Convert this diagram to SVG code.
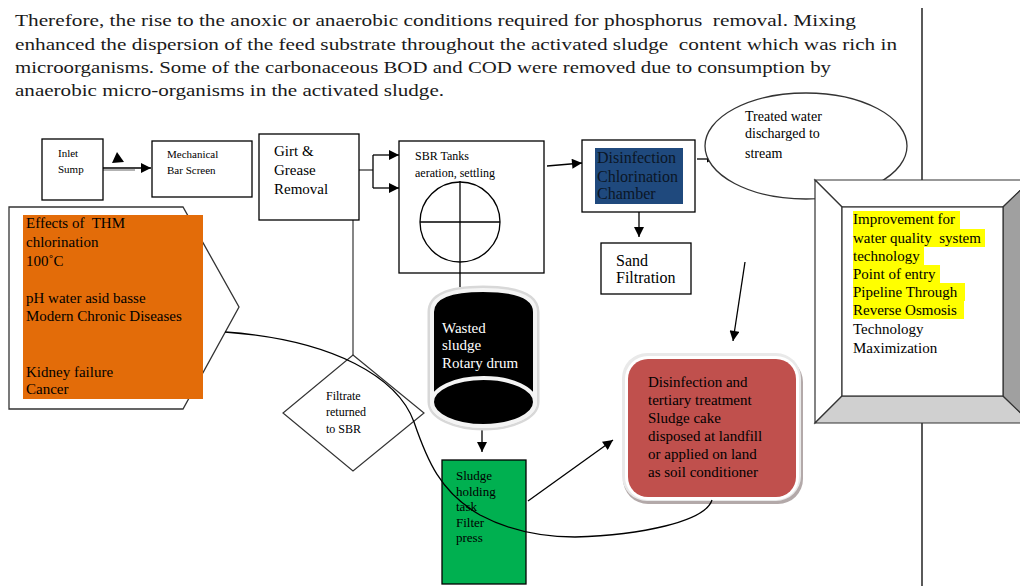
<svg xmlns="http://www.w3.org/2000/svg" width="1020" height="586" viewBox="0 0 1020 586">
<style>
.t{font-family:"Liberation Serif","DejaVu Serif","Times New Roman",Tinos,serif;fill:#000}
.w{font-family:"Liberation Serif","DejaVu Serif","Times New Roman",Tinos,serif}
.para{font-family:"Liberation Serif","DejaVu Serif","Times New Roman",Tinos,serif;font-size:17px;fill:#1a1a1a}
.pre{white-space:pre}
.box{fill:#fff;stroke:#000;stroke-width:1.3}
.ln{fill:none;stroke:#000;stroke-width:1.3}
</style>
<defs>
<marker id="ah" viewBox="0 0 10 10" refX="10" refY="5" markerWidth="11" markerHeight="10" markerUnits="userSpaceOnUse" orient="auto"><path d="M0,0 L10,5 L0,10 z" fill="#000"/></marker>
<marker id="ahs" viewBox="0 0 10 10" refX="10" refY="5" markerWidth="7" markerHeight="7" markerUnits="userSpaceOnUse" orient="auto"><path d="M0,0 L10,5 L0,10 z" fill="#000"/></marker>
</defs>
<rect width="1020" height="586" fill="#fff"/>

<g id="paragraph">
<text class="para pre" x="15" y="26" textLength="841" lengthAdjust="spacingAndGlyphs">Therefore, the rise to the anoxic or anaerobic conditions required for phosphorus  removal. Mixing</text>
<text class="para pre" x="15" y="50" textLength="882" lengthAdjust="spacingAndGlyphs">enhanced the dispersion of the feed substrate throughout the activated sludge  content which was rich in</text>
<text class="para" x="15" y="73" textLength="816" lengthAdjust="spacingAndGlyphs">microorganisms. Some of the carbonaceous BOD and COD were removed due to consumption by</text>
<text class="para" x="15" y="96" textLength="429" lengthAdjust="spacingAndGlyphs">anaerobic micro-organisms in the activated sludge.</text>
</g>

<g id="page-rule">
<line x1="922" y1="8" x2="922" y2="180" class="ln"/>
<line x1="922" y1="423" x2="922" y2="586" class="ln"/>
</g>

<g id="connectors">
<line x1="103" y1="170" x2="135" y2="170" stroke="#888" stroke-width="1.3"/>
<line x1="103" y1="168" x2="151" y2="168" class="ln" marker-end="url(#ah)"/>
<polygon points="112,163 124,162 117,152" fill="#000"/>
<line x1="222" y1="170" x2="247" y2="170" class="ln" marker-end="url(#ah)"/>
<line x1="334" y1="170" x2="373" y2="170" stroke="#555" stroke-width="1.5"/>
<line x1="373" y1="155" x2="373" y2="188" class="ln"/>
<line x1="373" y1="155" x2="399" y2="155" class="ln" marker-end="url(#ah)"/>
<line x1="373" y1="188" x2="399" y2="188" class="ln" marker-end="url(#ah)"/>
<line x1="353" y1="355" x2="353" y2="165" stroke="#444" stroke-width="1.3" marker-end="url(#ah)"/>
<line x1="547" y1="166" x2="582" y2="163" class="ln" marker-end="url(#ah)"/>
<line x1="639" y1="212" x2="639" y2="237" class="ln" marker-end="url(#ah)"/>
<line x1="697" y1="159" x2="714" y2="159" class="ln" marker-end="url(#ahs)"/>
<line x1="745" y1="262" x2="733" y2="341" class="ln" marker-end="url(#ah)"/>
<line x1="460" y1="273" x2="460" y2="287" class="ln"/>
<line x1="482" y1="430" x2="482" y2="452" class="ln" marker-end="url(#ah)"/>
<line x1="528" y1="501" x2="613" y2="440" class="ln" marker-end="url(#ah)"/>
</g>

<g id="thm-effects">
<path d="M9,207 L183,207 L239,307 L183,409 L9,409 Z" fill="#fff" stroke="#333" stroke-width="1.3"/>
<rect x="23" y="215" width="180" height="184" fill="#e36c09"/>
<g class="t" font-size="15">
<text class="pre" x="26" y="228">Effects of  THM</text>
<text x="26" y="247">chlorination</text>
<text x="26" y="266">100˚C</text>
<text x="26" y="303">pH water asid basse</text>
<text x="26" y="321">Modern Chronic Diseases</text>
<text x="26" y="377">Kidney failure</text>
<text x="26" y="394">Cancer</text>
</g>
</g>

<g id="inlet-sump">
<rect x="42" y="139" width="61" height="61" class="box"/>
<text class="t" font-size="11" x="58" y="157">Inlet</text>
<text class="t" font-size="11" x="58" y="173">Sump</text>
</g>

<g id="bar-screen">
<rect x="152" y="141" width="100" height="56" class="box"/>
<text class="t" font-size="11" x="167" y="158">Mechanical</text>
<text class="t" font-size="11" x="167" y="174">Bar Screen</text>
</g>

<g id="grit-removal">
<rect x="259" y="134" width="100" height="86" class="box"/>
<text class="t" font-size="15" x="274" y="156">Girt &amp;</text>
<text class="t" font-size="15" x="274" y="175">Grease</text>
<text class="t" font-size="15" x="274" y="194">Removal</text>
</g>

<g id="sbr-tanks">
<rect x="399" y="141" width="145" height="132" class="box"/>
<text class="t" font-size="12" x="415" y="160">SBR Tanks</text>
<text class="t" font-size="12" x="415" y="177">aeration, settling</text>
<circle cx="460" cy="222" r="40" class="ln"/>
<line x1="420" y1="222" x2="500" y2="222" class="ln"/>
<line x1="460" y1="181" x2="460" y2="273" class="ln"/>
</g>

<g id="disinfection-chamber">
<rect x="582" y="140" width="113" height="72" class="box"/>
<rect x="595" y="148" width="88" height="56" fill="#1f497d"/>
<g class="w" font-size="16" fill="#0b1626">
<text x="597" y="163">Disinfection</text>
<text x="597" y="182">Chlorination</text>
<text x="597" y="199">Chamber</text>
</g>
</g>

<g id="sand-filtration">
<rect x="601" y="243" width="90" height="51" class="box"/>
<text class="t" font-size="16" x="616" y="266">Sand</text>
<text class="t" font-size="16" x="616" y="283">Filtration</text>
</g>

<g id="treated-water">
<ellipse cx="806" cy="146" rx="101" ry="53" fill="#fff" stroke="#333" stroke-width="1.3"/>
<text class="t" font-size="14" x="745" y="121">Treated water</text>
<text class="t" font-size="14" x="745" y="138">discharged to</text>
<text class="t" font-size="14" x="745" y="158">stream</text>
</g>

<g id="improvement">
<polygon points="815,180 1031,180 1003,207 842,207" fill="#fff" stroke="#333" stroke-width="1.2"/>
<polygon points="815,180 842,207 842,396 815,423" fill="#fff" stroke="#333" stroke-width="1.2"/>
<polygon points="842,396 1003,396 1031,423 815,423" fill="#d0d0d0" stroke="#333" stroke-width="1.2"/>
<polygon points="1003,207 1031,180 1031,423 1003,396" fill="#a0a0a0" stroke="#333" stroke-width="1.2"/>
<rect x="842" y="207" width="161" height="189" fill="#fff" stroke="#333" stroke-width="1.2"/>
<g fill="#ffff00">
<rect x="853" y="211" width="107" height="18"/>
<rect x="853" y="229" width="132" height="18"/>
<rect x="853" y="247" width="71" height="18"/>
<rect x="853" y="265" width="87" height="18"/>
<rect x="853" y="283" width="112" height="18"/>
<rect x="853" y="301" width="111" height="18"/>
</g>
<g class="t" font-size="15">
<text x="853" y="224">Improvement for</text>
<text class="pre" x="853" y="243">water quality  system</text>
<text x="853" y="261">technology</text>
<text x="853" y="279">Point of entry</text>
<text x="853" y="297">Pipeline Through</text>
<text x="853" y="315">Reverse Osmosis</text>
<text x="853" y="334">Technology</text>
<text x="853" y="353">Maximization</text>
</g>
</g>

<g id="filtrate-returned">
<polygon points="353,355 424,413 353,471 283,413" fill="#fff" stroke="#333" stroke-width="1.2"/>
<text class="t" font-size="12" x="326" y="400">Filtrate</text>
<text class="t" font-size="12" x="326" y="416">returned</text>
<text class="t" font-size="12" x="326" y="433">to SBR</text>
</g>

<g id="rotary-drum">
<path d="M432,312 Q432,290 483,290 Q535,290 535,312 L535,402 A51.5,24 0 0 1 432,402 Z" fill="#000" stroke="#d8d8d8" stroke-width="9"/>
<path d="M432,312 Q432,290 483,290 Q535,290 535,312 L535,402 A51.5,24 0 0 1 432,402 Z" fill="#000" stroke="#f4f4f4" stroke-width="4"/>
<ellipse cx="483.5" cy="402" rx="51.5" ry="24" fill="#000" stroke="#f4f4f4" stroke-width="4"/>
<g class="w" font-size="15" fill="#fff">
<text x="442" y="333">Wasted</text>
<text x="442" y="350">sludge</text>
<text x="442" y="368">Rotary drum</text>
</g>
</g>

<g id="sludge-holding">
<rect x="442" y="460" width="84" height="124" fill="#00b050" stroke="#000" stroke-width="1.3"/>
<g class="t" font-size="13">
<text x="456" y="480">Sludge</text>
<text x="456" y="496">holding</text>
<text x="456" y="511">task</text>
<text x="456" y="527">Filter</text>
<text x="456" y="542">press</text>
</g>
</g>

<g id="tertiary-treatment">
<rect x="623" y="357" width="180" height="147" rx="25" fill="#b3a9a9"/>
<rect x="622" y="353" width="179" height="148" rx="25" fill="#e9e9e9"/>
<rect x="625" y="356" width="174" height="144" rx="23" fill="#fff"/>
<rect x="628" y="359" width="168" height="138" rx="20" fill="#c0504d"/>
<g class="t" font-size="15">
<text x="648" y="387">Disinfection and</text>
<text x="648" y="405">tertiary treatment</text>
<text x="648" y="423">Sludge cake</text>
<text x="648" y="441">disposed at landfill</text>
<text x="648" y="459">or applied on land</text>
<text x="648" y="477">as soil conditioner</text>
</g>
</g>

<g id="long-curve">
<path d="M225,332 C335,340 398,378 414,422 C427,460 440,492 480,515 C510,531 540,537 575,537 C640,535 705,522 712,500" class="ln"/>
</g>
</svg>
